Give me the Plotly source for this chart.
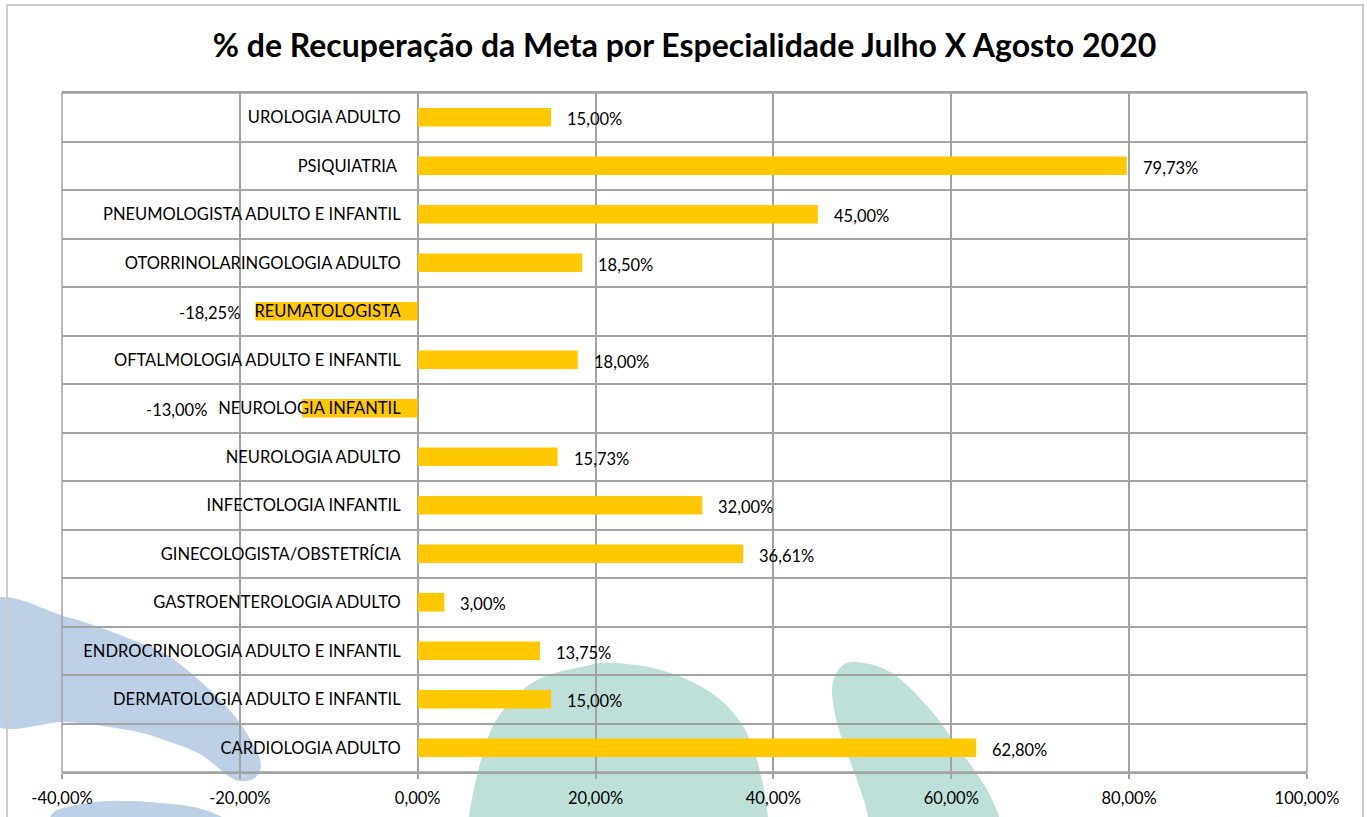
import plotly.graph_objects as go

# ---------------- data ----------------
categories = [
    "CARDIOLOGIA ADULTO",
    "DERMATOLOGIA ADULTO E INFANTIL",
    "ENDROCRINOLOGIA ADULTO E INFANTIL",
    "GASTROENTEROLOGIA ADULTO",
    "GINECOLOGISTA/OBSTETRÍCIA",
    "INFECTOLOGIA INFANTIL",
    "NEUROLOGIA ADULTO",
    "NEUROLOGIA INFANTIL",
    "OFTALMOLOGIA ADULTO E INFANTIL",
    "REUMATOLOGISTA",
    "OTORRINOLARINGOLOGIA ADULTO",
    "PNEUMOLOGISTA ADULTO E INFANTIL",
    "PSIQUIATRIA ",
    "UROLOGIA ADULTO",
]
values = [0.6280, 0.1500, 0.1375, 0.0300, 0.3661, 0.3200, 0.1573,
          -0.1300, 0.1800, -0.1825, 0.1850, 0.4500, 0.7973, 0.1500]
x_tickvals = [-0.4, -0.2, 0.0, 0.2, 0.4, 0.6, 0.8, 1.0]
title_text = "% de Recuperação da Meta por Especialidade Julho X Agosto 2020"


def pct(v):
    return f"{v * 100:.2f}".replace(".", ",") + "%"


x_ticktext = [pct(v) for v in x_tickvals]

# label offsets (style): a manually displaced label in the original
label_shift = {"NEUROLOGIA INFANTIL": -93}

# ---------------- geometry helpers (decorative watermark) ----------------
W, H = 1367, 817
ML, MR, MT, MB = 62, 60, 93, 45
PW, PH = W - ML - MR, H - MT - MB


def to_paper(x, y):
    return ((x - ML) / PW, (H - MB - y) / PH)


def smooth_path(pts):
    P = [to_paper(*p) for p in pts]
    n = len(P)
    d = f"M {P[0][0]:.5f},{P[0][1]:.5f}"
    for i in range(n):
        p0, p1, p2, p3 = P[i - 1], P[i], P[(i + 1) % n], P[(i + 2) % n]
        c1 = (p1[0] + (p2[0] - p0[0]) / 6, p1[1] + (p2[1] - p0[1]) / 6)
        c2 = (p2[0] - (p3[0] - p1[0]) / 6, p2[1] - (p3[1] - p1[1]) / 6)
        d += (f" C {c1[0]:.5f},{c1[1]:.5f} {c2[0]:.5f},{c2[1]:.5f}"
              f" {p2[0]:.5f},{p2[1]:.5f}")
    return d + " Z"


blue1 = [(-10, 603), (67, 617), (133, 640), (167, 655), (200, 681), (233, 714),
         (253, 744), (261, 764), (256, 777), (245, 781), (230, 777), (200, 754),
         (167, 741), (133, 731), (67, 722), (-10, 720)]
blue2 = [(40, 860), (50, 817), (72, 806), (110, 801), (160, 803), (205, 810),
         (240, 830), (240, 860)]
green1 = [(469, 860), (469, 817), (483, 753), (501, 713), (537, 680), (590, 665),
          (615, 663), (661, 670), (707, 690), (739, 720), (757, 760), (768, 817),
          (768, 860)]
green2 = [(870, 860), (868, 817), (857, 780), (839, 730), (832, 690), (840, 668),
          (857, 662), (892, 673), (928, 707), (953, 740), (974, 770), (990, 795),
          (1003, 830), (1003, 860)]

BLUE = "#BDD0E6"
GREEN = "#BFE0D8"
GRID = "#A3A3A3"
FONT = "Lato"
FS = 16.5

shapes = []
for pts, col in [(blue1, BLUE), (blue2, BLUE), (green1, GREEN), (green2, GREEN)]:
    shapes.append(dict(type="path", xref="paper", yref="paper", path=smooth_path(pts),
                       fillcolor=col, line=dict(width=0), layer="below"))
# chart border
bx0, by0 = to_paper(7, 830)
bx1, by1 = to_paper(1363, 5)
shapes.append(dict(type="rect", xref="paper", yref="paper", x0=bx0, y0=by0, x1=bx1, y1=by1,
                   line=dict(color="#CCCCCC", width=2), fillcolor="rgba(0,0,0,0)",
                   layer="below"))
# plot frame
shapes.append(dict(type="rect", xref="paper", yref="paper", x0=0, y0=0, x1=1, y1=1,
                   line=dict(color=GRID, width=1.5), fillcolor="rgba(0,0,0,0)",
                   layer="below"))

# data labels, anchored at each bar's end through the data scales
annotations = []
for cat, v in zip(categories, values):
    shift = label_shift.get(cat, 14 if v >= 0 else -13)
    annotations.append(dict(
        x=v, y=cat, xref="x", yref="y", text=pct(v), showarrow=False,
        xanchor="left" if v >= 0 else "right", yanchor="middle",
        xshift=shift, yshift=-2,
        font=dict(family=FONT, size=FS, color="#000000"),
    ))

# ---------------- figure ----------------
fig = go.Figure(go.Bar(
    x=values,
    y=categories,
    orientation="h",
    marker=dict(color="#FFC800", line=dict(width=0)),
    hoverinfo="skip",
))

fig.update_layout(
    width=W, height=H,
    margin=dict(l=ML, r=MR, t=MT, b=MB, autoexpand=False),
    paper_bgcolor="white",
    plot_bgcolor="rgba(0,0,0,0)",
    bargap=0.615,
    showlegend=False,
    font=dict(family=FONT, size=FS, color="#000000"),
    title=dict(text=title_text, x=0.5, xanchor="center", xref="paper",
               y=(H - 46) / H, yanchor="middle", yref="container",
               font=dict(family=FONT, size=32, color="#000000", weight="bold")),
    shapes=shapes,
    annotations=annotations,
    xaxis=dict(
        range=[-0.4, 1.0],
        tickvals=x_tickvals, ticktext=x_ticktext,
        showgrid=True, gridcolor=GRID, gridwidth=1.5,
        zeroline=False,
        showline=True, linecolor=GRID, linewidth=1.5, mirror=True,
        ticks="outside", ticklen=5, tickcolor=GRID, tickwidth=1.5,
        ticklabelstandoff=5,
        tickfont=dict(family=FONT, size=FS, color="#000000"),
        automargin=False, fixedrange=True,
    ),
    yaxis=dict(
        type="category",
        categoryorder="array", categoryarray=categories,
        range=[-0.5, len(categories) - 0.5],
        tickson="boundaries",
        showgrid=True, gridcolor=GRID, gridwidth=1.5,
        showline=False, zeroline=False,
        ticks="",
        anchor="free", position=0.4 / 1.4,
        ticklabelstandoff=17,
        tickfont=dict(family=FONT, size=FS, color="#000000"),
        automargin=False, fixedrange=True,
    ),
)

fig.write_html("out.html", config={"displayModeBar": False},
               post_script="document.body.style.margin='0';")
